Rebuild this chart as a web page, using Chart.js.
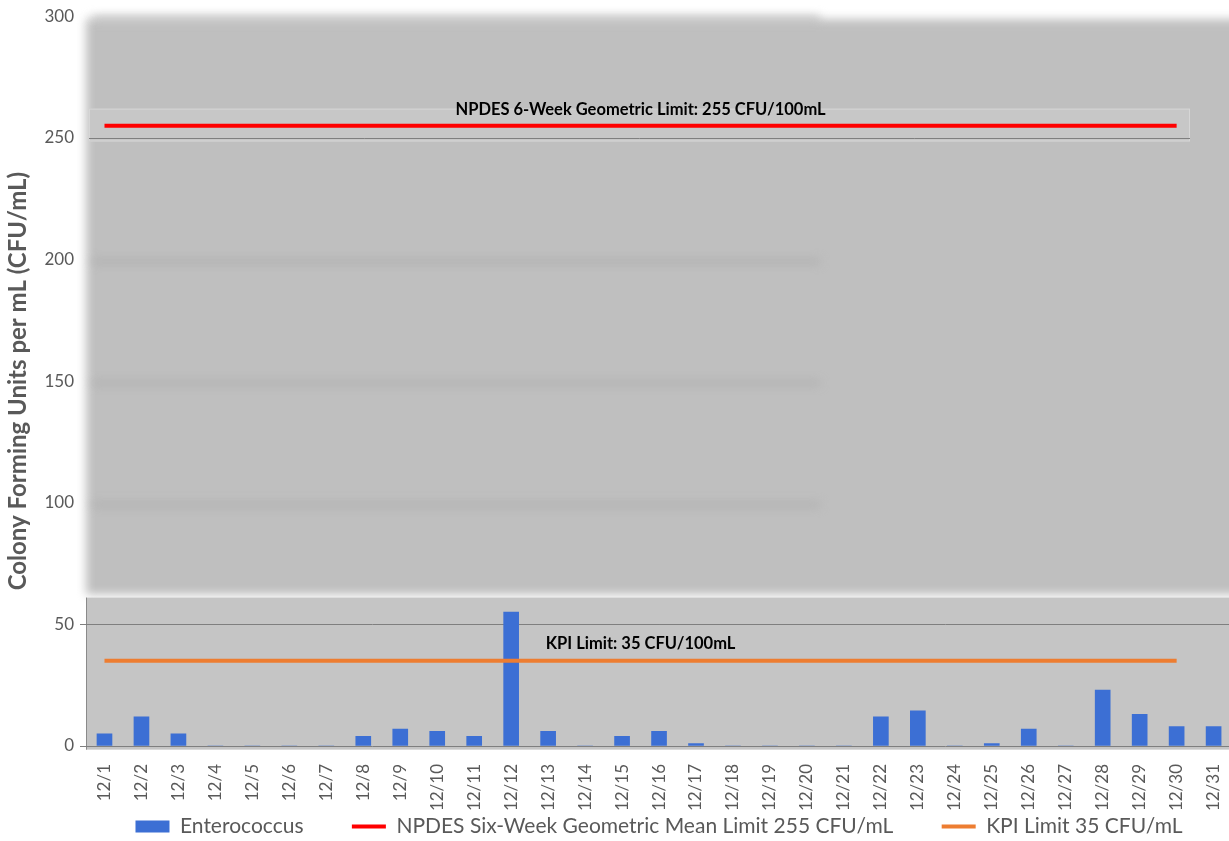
<!DOCTYPE html>
<html>
<head>
<meta charset="utf-8">
<script src="https://cdn.jsdelivr.net/npm/chart.js@4/dist/chart.umd.min.js"></script>
<style>
  html, body { margin: 0; padding: 0; background: #ffffff; overflow: hidden; }
  #wrap { width: 1244px; height: 847px; }
</style>
</head>
<body>
<div id="wrap"><canvas id="enteroChart"></canvas></div>
<script>
const dates = ['12/1','12/2','12/3','12/4','12/5','12/6','12/7','12/8','12/9','12/10',
               '12/11','12/12','12/13','12/14','12/15','12/16','12/17','12/18','12/19','12/20',
               '12/21','12/22','12/23','12/24','12/25','12/26','12/27','12/28','12/29','12/30','12/31'];

const enterococcus = [5, 12, 5, 0, 0, 0, 0, 4, 7, 6,
                      4, 55, 6, 0, 4, 6, 1, 0, 0, 0,
                      0, 12, 14.5, 0, 1, 7, 0, 23, 13, 8, 8];

const npdesLimit = [255, 255, 255, 255, 255, 255, 255, 255, 255, 255,
                    255, 255, 255, 255, 255, 255, 255, 255, 255, 255,
                    255, 255, 255, 255, 255, 255, 255, 255, 255, 255, null];

const kpiLimit = [35, 35, 35, 35, 35, 35, 35, 35, 35, 35,
                  35, 35, 35, 35, 35, 35, 35, 35, 35, 35,
                  35, 35, 35, 35, 35, 35, 35, 35, 35, 35, null];

const yTicks = [0, 50, 100, 150, 200, 250, 300];

const npdesNote = 'NPDES 6-Week Geometric Limit: 255 CFU/100mL';
const kpiNote = 'KPI Limit: 35 CFU/100mL';

Chart.defaults.font.family = 'Lato, "Open Sans", sans-serif';
Chart.defaults.color = '#595959';

// gray plot panels: hazy upper part, crisp strips around the limits
const panels = {
  id: 'panels',
  beforeDraw(chart) {
    const {ctx, chartArea: a, scales: {y}} = chart;
    ctx.save();
    ctx.filter = 'blur(5px)';
    ctx.fillStyle = '#bfbfbf';
    ctx.fillRect(a.left, y.getPixelForValue(300) + 3, a.right - a.left + 10,
                 y.getPixelForValue(63.5) - y.getPixelForValue(300));
    ctx.strokeStyle = '#acacac';
    ctx.lineWidth = 4;
    [300, 200, 150, 100].forEach(v => {
      const py = y.getPixelForValue(v) + 2;
      ctx.beginPath();
      ctx.moveTo(a.left + 6, py);
      ctx.lineTo(820, py);
      ctx.stroke();
    });
    ctx.restore();

    ctx.save();
    ctx.fillStyle = '#c5c5c5';
    ctx.fillRect(a.left, y.getPixelForValue(61), a.right - a.left, y.getPixelForValue(-1.5) - y.getPixelForValue(61));
    const sTop = y.getPixelForValue(262);
    const sBot = y.getPixelForValue(248.5);
    ctx.fillStyle = '#c7c7c7';
    ctx.fillRect(a.left + 3, sTop, 1101, sBot - sTop);
    ctx.strokeStyle = '#d6d6d6';
    ctx.lineWidth = 1;
    ctx.strokeRect(a.left + 3.5, sTop + 0.5, 1100, sBot - sTop - 1);
    // 250 gridline inside the strip
    const g = Math.round(y.getPixelForValue(250)) + 0.5;
    ctx.strokeStyle = '#7f7f7f';
    ctx.beginPath();
    ctx.moveTo(a.left + 3, g);
    ctx.lineTo(a.left + 1104, g);
    ctx.stroke();
    // left axis line in the lower panel
    ctx.strokeStyle = '#8a8a8a';
    ctx.beginPath();
    ctx.moveTo(a.left + 0.5, y.getPixelForValue(61));
    ctx.lineTo(a.left + 0.5, y.getPixelForValue(-1.5));
    ctx.stroke();
    ctx.restore();
  }
};

// text notes above each limit line
const limitNotes = {
  id: 'limitNotes',
  afterDatasetsDraw(chart) {
    const {ctx, scales: {x, y}} = chart;
    const cx = (x.getPixelForValue(0) + x.getPixelForValue(29)) / 2;
    ctx.save();
    ctx.fillStyle = '#000000';
    ctx.font = 'bold 16.5px Lato, "Open Sans", sans-serif';
    ctx.textAlign = 'center';
    ctx.textBaseline = 'middle';
    ctx.fillText(npdesNote, cx, y.getPixelForValue(261.5));
    ctx.fillText(kpiNote, cx, y.getPixelForValue(42));
    ctx.restore();
  }
};

// legend entries in dataset order, with wider gaps between them
function legendItems(chart) {
  const items = Chart.defaults.plugins.legend.labels.generateLabels(chart);
  items.sort((a, b) => a.datasetIndex - b.datasetIndex);
  items.forEach((it, i) => {
    if (i < items.length - 1) it.text += '         ';
  });
  return items;
}

function enterococcus_chart(div_id) {
  const ctx = document.getElementById(div_id).getContext('2d');
  const markColor = c => (c.tick && [0, 50].includes(c.tick.value)) ? '#7f7f7f' : 'rgba(0,0,0,0)';

  new Chart(ctx, {
    type: 'bar',
    data: {
      labels: dates,
      datasets: [
        {
          label: 'Enterococcus',
          data: enterococcus,
          backgroundColor: '#3c6fd4',
          borderWidth: 0,
          barThickness: 15,
          order: 2,
          pointStyle: 'rect'
        },
        {
          type: 'line',
          label: 'NPDES Six-Week Geometric Mean Limit 255 CFU/mL',
          data: npdesLimit,
          borderColor: '#ff0000',
          backgroundColor: '#ff0000',
          borderWidth: 4,
          pointRadius: 0,
          order: 1,
          pointStyle: 'line'
        },
        {
          type: 'line',
          label: 'KPI Limit 35 CFU/mL',
          data: kpiLimit,
          borderColor: '#ed7d31',
          backgroundColor: '#ed7d31',
          borderWidth: 4,
          pointRadius: 0,
          order: 1,
          pointStyle: 'line'
        }
      ]
    },
    options: {
      responsive: true,
      maintainAspectRatio: false,
      animation: false,
      layout: {
        padding: { top: 12, left: 0, right: 0, bottom: 0 }
      },
      scales: {
        x: {
          offset: true,
          grid: { display: false },
          border: { display: false },
          afterFit: scale => { scale.height = 70; },
          ticks: {
            minRotation: 90,
            maxRotation: 90,
            autoSkip: false,
            font: { size: 17 },
            color: '#595959',
            padding: 10
          }
        },
        y: {
          min: 0,
          max: 300,
          afterBuildTicks: scale => { scale.ticks = yTicks.map(v => ({value: v})); },
          afterFit: scale => { scale.width = 86; },
          border: { display: false },
          grid: {
            color: markColor,
            tickColor: markColor,
            tickLength: 6,
            lineWidth: 1
          },
          ticks: {
            font: { size: 17 },
            color: '#595959',
            padding: 6
          },
          title: {
            display: true,
            text: 'Colony Forming Units per mL (CFU/mL)',
            font: { size: 24, weight: 'bold' },
            color: '#595959',
            padding: { top: 4, bottom: 0 }
          }
        }
      },
      plugins: {
        legend: {
          position: 'bottom',
          fullSize: false,
          labels: {
            usePointStyle: true,
            pointStyleWidth: 34,
            boxHeight: 12,
            font: { size: 21 },
            color: '#595959',
            padding: 0,
            generateLabels: legendItems
          }
        },
        tooltip: { enabled: false }
      },
      events: []
    },
    plugins: [panels, limitNotes]
  });
}

enterococcus_chart('enteroChart');
</script>
</body>
</html>
